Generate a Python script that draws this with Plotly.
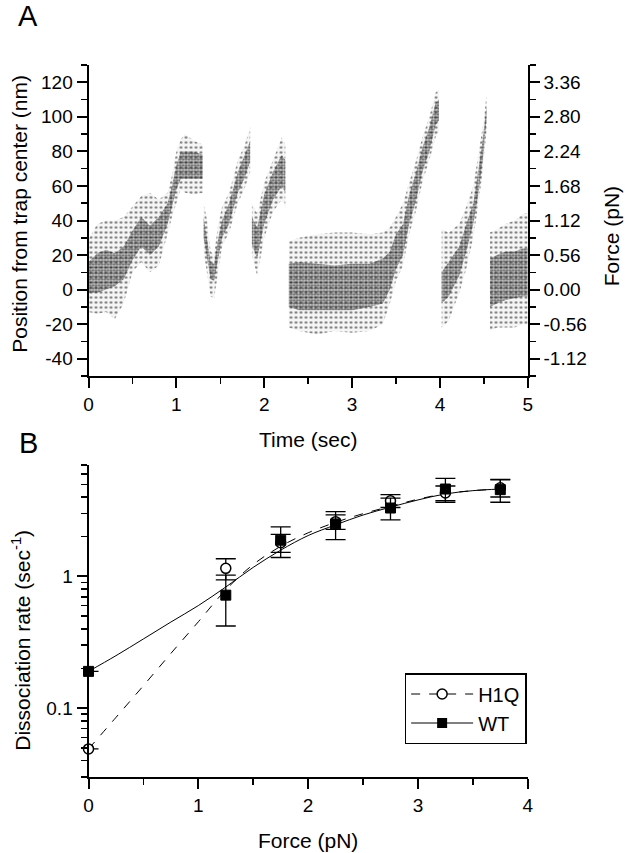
import math
import plotly.graph_objects as go

# ---------------- Panel A: position trace (envelopes) ----------------
seg1_t   = [0.00, 0.10, 0.20, 0.30, 0.40, 0.50, 0.60, 0.70, 0.80, 0.90, 0.95, 1.00, 1.05, 1.10, 1.20, 1.30]
seg1_hi  = [29, 38, 40, 40, 42, 48, 54, 56, 52, 56, 66, 80, 87, 90, 86, 84]
seg1_lo  = [-13, -14, -13, -17, -8, 10, 16, 10, 14, 32, 42, 50, 58, 56, 55, 56]
seg1_chi = [16, 21, 23, 21, 25, 34, 42, 37, 42, 50, 60, 72, 80, 80, 80, 78]
seg1_clo = [-2, -2, 0, 2, 6, 17, 25, 20, 25, 38, 48, 58, 64, 64, 64, 64]

seg2_t   = [1.31, 1.35, 1.39, 1.43, 1.47, 1.52, 1.60, 1.70, 1.78, 1.84]
seg2_hi  = [50, 40, 22, 20, 36, 48, 56, 75, 84, 94]
seg2_lo  = [22, 10, -4, -5, 8, 25, 33, 50, 59, 68]
seg2_chi = [42, 30, 16, 15, 28, 40, 50, 68, 78, 86]
seg2_clo = [30, 18, 6, 5, 16, 30, 38, 56, 65, 74]

seg3_t   = [1.86, 1.92, 2.00, 2.10, 2.20, 2.24]
seg3_hi  = [50, 44, 62, 75, 88, 84]
seg3_lo  = [20, 8, 30, 45, 52, 48]
seg3_chi = [42, 36, 55, 68, 78, 75]
seg3_clo = [26, 18, 38, 52, 60, 56]

seg4_t   = [2.28, 2.40, 2.60, 2.80, 3.00, 3.20, 3.35, 3.43, 3.50, 3.58, 3.65, 3.73, 3.80, 3.88, 3.95, 3.99]
seg4_hi  = [28, 30, 32, 33, 33, 32, 33, 36, 42, 50, 62, 75, 88, 100, 114, 116]
seg4_lo  = [-22, -24, -26, -24, -25, -24, -20, -8, 5, 14, 32, 46, 62, 75, 88, 92]
seg4_chi = [15, 16, 15, 14, 15, 15, 18, 22, 32, 38, 55, 68, 82, 94, 108, 110]
seg4_clo = [-10, -12, -12, -12, -12, -10, -8, 0, 12, 20, 38, 52, 68, 80, 95, 98]

seg5_t   = [4.02, 4.10, 4.22, 4.30, 4.38, 4.44, 4.49, 4.53]
seg5_hi  = [35, 33, 38, 48, 60, 78, 95, 112]
seg5_lo  = [-22, -18, -2, 12, 30, 50, 70, 92]
seg5_chi = [10, 16, 25, 38, 50, 70, 88, 106]
seg5_clo = [-8, -4, 8, 22, 38, 56, 76, 98]

seg6_t   = [4.57, 4.65, 4.75, 4.85, 4.95, 5.00]
seg6_hi  = [33, 35, 38, 40, 44, 44]
seg6_lo  = [-24, -22, -22, -22, -20, -20]
seg6_chi = [18, 20, 22, 22, 24, 24]
seg6_clo = [-10, -8, -6, -5, -4, -4]

pos_ticks = [-40, -20, 0, 20, 40, 60, 80, 100, 120]
pos_ticktext = ["-40", "-20", "0", "20", "40", "60", "80", "100", "120"]
force_ticks = [-1.12, -0.56, 0.00, 0.56, 1.12, 1.68, 2.24, 2.80, 3.36]
force_ticktext = ["-1.12", "-0.56", "0.00", "0.56", "1.12", "1.68", "2.24", "2.80", "3.36"]
time_ticks = [0, 1, 2, 3, 4, 5]

# ---------------- Panel B: dissociation rates ----------------
force_pts = [0, 1.25, 1.75, 2.25, 2.75, 3.25, 3.75]
wt_rate   = [0.19, 0.72, 1.88, 2.50, 3.30, 4.60, 4.55]
wt_err    = [0, 0.30, 0.49, 0.60, 0.62, 0.95, 0.90]
h1q_rate  = [0.049, 1.15, 1.80, 2.60, 3.75, 4.30, 4.70]
h1q_err   = [0, 0.21, 0.28, 0.33, 0.42, 0.55, 0.70]

fit_force = [0, 0.25, 0.5, 0.75, 1.0, 1.25, 1.5, 1.75, 2.0, 2.25, 2.5, 2.75, 3.0, 3.25, 3.5, 3.75]
wt_fit    = [0.19, 0.25, 0.335, 0.45, 0.60, 0.83, 1.17, 1.58, 2.04, 2.46, 2.92, 3.35, 3.80, 4.22, 4.47, 4.60]
h1q_fit   = [0.049, 0.085, 0.148, 0.26, 0.452, 0.79, 1.23, 1.69, 2.14, 2.57, 2.99, 3.40, 3.85, 4.24, 4.47, 4.60]

force_axis_ticks = [0, 1, 2, 3, 4]
rate_ticks = [0.1, 1]
rate_ticktext = ["0.1", "1"]
rate_minor = [0.03, 0.04, 0.05, 0.06, 0.07, 0.08, 0.09,
              0.2, 0.3, 0.4, 0.5, 0.6, 0.7, 0.8, 0.9,
              2, 3, 4, 5, 6, 7]

W, H = 633, 853
FONT = "Liberation Sans, Arial, sans-serif"

fig = go.Figure()

segments = [
    (seg1_t, seg1_hi, seg1_lo, seg1_chi, seg1_clo),
    (seg2_t, seg2_hi, seg2_lo, seg2_chi, seg2_clo),
    (seg3_t, seg3_hi, seg3_lo, seg3_chi, seg3_clo),
    (seg4_t, seg4_hi, seg4_lo, seg4_chi, seg4_clo),
    (seg5_t, seg5_hi, seg5_lo, seg5_chi, seg5_clo),
    (seg6_t, seg6_hi, seg6_lo, seg6_chi, seg6_clo),
]
for t, hi, lo, chi, clo in segments:
    fig.add_trace(go.Scatter(
        x=t + t[::-1], y=hi + lo[::-1], fill="toself", mode="lines",
        line=dict(width=0, color="rgba(0,0,0,0)"),
        fillcolor="rgba(0,0,0,0.04)",
        fillpattern=dict(shape=".", fgcolor="black", bgcolor="rgba(0,0,0,0.04)",
                         size=5, solidity=0.22, fillmode="overlay"),
        xaxis="x", yaxis="y", showlegend=False, hoverinfo="skip"))
    fig.add_trace(go.Scatter(
        x=t + t[::-1], y=chi + clo[::-1], fill="toself", mode="lines",
        line=dict(width=0, color="rgba(0,0,0,0)"),
        fillcolor="rgba(0,0,0,0.18)",
        fillpattern=dict(shape=".", fgcolor="black", bgcolor="rgba(0,0,0,0.18)",
                         size=3, solidity=0.45, fillmode="overlay"),
        xaxis="x", yaxis="y", showlegend=False, hoverinfo="skip"))

# empty trace so the force axis is drawn
fig.add_trace(go.Scatter(x=[None], y=[None], xaxis="x", yaxis="y3",
                         showlegend=False, hoverinfo="skip"))

# Panel B fits
fig.add_trace(go.Scatter(x=fit_force, y=h1q_fit, mode="lines", line_shape="spline",
                         line=dict(color="black", width=1, dash="dash"),
                         xaxis="x2", yaxis="y2", showlegend=False))
fig.add_trace(go.Scatter(x=fit_force, y=wt_fit, mode="lines", line_shape="spline",
                         line=dict(color="black", width=1),
                         xaxis="x2", yaxis="y2", showlegend=False))
# Panel B data
fig.add_trace(go.Scatter(x=force_pts, y=h1q_rate, mode="markers",
                         marker=dict(symbol="circle", size=10, color="white",
                                     line=dict(color="black", width=1.5)),
                         error_y=dict(type="data", array=h1q_err, color="black",
                                      thickness=1.3, width=10),
                         cliponaxis=False, xaxis="x2", yaxis="y2", showlegend=False))
fig.add_trace(go.Scatter(x=force_pts, y=wt_rate, mode="markers",
                         marker=dict(symbol="square", size=10, color="black",
                                     line=dict(color="black", width=1)),
                         error_y=dict(type="data", array=wt_err, color="black",
                                      thickness=1.3, width=10),
                         cliponaxis=False, xaxis="x2", yaxis="y2", showlegend=False))
# legend entries
fig.add_trace(go.Scatter(x=[None], y=[None], mode="lines+markers", name="H1Q",
                         line=dict(color="black", width=1, dash="dash"),
                         marker=dict(symbol="circle", size=10, color="white",
                                     line=dict(color="black", width=1.5)),
                         xaxis="x2", yaxis="y2"))
fig.add_trace(go.Scatter(x=[None], y=[None], mode="lines+markers", name="WT",
                         line=dict(color="black", width=1),
                         marker=dict(symbol="square", size=10, color="black"),
                         xaxis="x2", yaxis="y2"))

tickfont = dict(family=FONT, size=19, color="black")
common = dict(showgrid=False, zeroline=False, showline=True, linecolor="black",
              linewidth=2, ticks="outside", ticklen=10, tickwidth=2,
              tickcolor="black", tickfont=tickfont)
minor_common = dict(ticklen=6, tickwidth=1.5, tickcolor="black", ticks="outside")

xdom = [85 / W, 532 / W]
ydomA = [1 - 376 / H, 1 - 65 / H]
ydomB = [1 - 777 / H, 1 - 465 / H]

fig.update_layout(
    width=W, height=H, margin=dict(l=0, r=0, t=0, b=0),
    paper_bgcolor="white", plot_bgcolor="white",
    font=dict(family=FONT, color="black"),
    xaxis=dict(domain=xdom, anchor="y", range=[0, 5], tickmode="array",
               tickvals=time_ticks, minor=dict(dtick=0.5, tick0=0, **minor_common), **common),
    yaxis=dict(domain=ydomA, anchor="x", range=[-50, 130], tickmode="array",
               tickvals=pos_ticks, ticktext=pos_ticktext,
               minor=dict(dtick=10, tick0=0, **minor_common), **common),
    yaxis3=dict(overlaying="y", side="right", anchor="x", range=[-1.4, 3.64],
                tickmode="array", tickvals=force_ticks, ticktext=force_ticktext,
                minor=dict(dtick=0.28, tick0=0, **minor_common), **common),
    xaxis2=dict(domain=xdom, anchor="y2", range=[0, 4], tickmode="array",
                tickvals=force_axis_ticks, minor=dict(dtick=0.5, tick0=0, **minor_common), **common),
    yaxis2=dict(domain=ydomB, anchor="x2", type="log",
                range=[math.log10(0.03), math.log10(7)], tickmode="array",
                tickvals=rate_ticks, ticktext=rate_ticktext,
                minor=dict(tickmode="array", tickvals=rate_minor, **minor_common), **common),
    legend=dict(x=406.7 / W, y=1 - 673 / H, xanchor="left", yanchor="top",
                bordercolor="black", borderwidth=1.5, bgcolor="white",
                font=dict(family=FONT, size=20, color="black"),
                itemwidth=62, tracegroupgap=0),
    showlegend=True,
)

def ann(text, px, py, size=21, angle=0):
    fig.add_annotation(text=text, x=px / W, y=1 - py / H, xref="paper", yref="paper",
                       showarrow=False, textangle=angle, xanchor="center", yanchor="middle",
                       font=dict(family=FONT, size=size, color="black"))

ann("A", 23, 16, size=29)
ann("B", 24, 443, size=29)
ann("Position from trap center (nm)", 14, 214, angle=-90)
ann("Force (pN)", 617, 236, angle=-90)
ann("Time (sec)", 308.5, 440)
ann("Dissociation rate (sec<sup>-1</sup>)", 16, 640, angle=-90)
ann("Force (pN)", 308.5, 840)

fig.write_html(
    "out.html",
    config={"displayModeBar": False, "staticPlot": True},
    post_script="document.documentElement.style.margin='0';document.body.style.margin='0';"
                "document.body.style.padding='0';document.body.style.overflow='hidden';",
)
